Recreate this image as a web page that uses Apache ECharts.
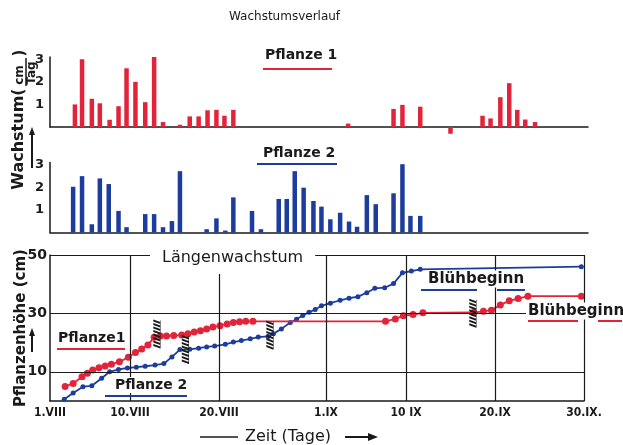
<!DOCTYPE html>
<html><head><meta charset="utf-8">
<script src="https://cdn.jsdelivr.net/npm/echarts@6/dist/echarts.min.js"></script>
<style>html,body{margin:0;padding:0;background:#fff}#c{width:623px;height:445px}</style>
</head><body><div id="c"></div>
<script>
const RED = '#e2243b', BLUE = '#1d3d9e', INK = '#1a1a1a';
const FONT = 'DejaVu Sans';

// x axis: days since 1 August
const xTickDays = [0, 9, 19, 31, 40, 50, 60];
const xTickLabels = ['1.VIII', '10.VIII', '20.VIII', '1.IX', '10 IX', '20.IX', '30.IX.'];
const gridDays = [9, 19, 31, 40, 50, 60];
const rateTicks = [1, 2, 3];
const heightTicks = [10, 30, 50];

// daily growth (cm/Tag)
const p1RateDays = [2.8,3.6,4.7,5.6,6.7,7.7,8.6,9.6,10.7,11.7,12.7, 14.6,15.7,16.7,17.7,18.7,19.6,20.6, 33.5, 38.6,39.6,41.6, 45.0, 48.6,49.5,50.6,51.6,52.5,53.4,54.5];
const p1Rate     = [1.0,3.0,1.25,1.05,0.32,0.92,2.6,2.0,1.1,3.1,0.22, 0.1,0.47,0.47,0.74,0.76,0.5,0.76, 0.15, 0.8,0.98,0.9, -0.3, 0.5,0.38,1.32,1.94,0.76,0.33,0.22];
const p2RateDays = [2.6,3.6,4.7,5.6,6.6,7.7,8.6, 10.7,11.7,12.7,13.7,14.6, 17.6,18.7,19.7,20.6, 22.7,23.7, 25.7,26.6,27.5,28.5,29.6,30.5,31.5,32.6,33.6,34.5,35.6,36.6, 38.6,39.6,40.5,41.6];
const p2Rate     = [2.03,2.5,0.37,2.4,2.15,0.96,0.24, 0.82,0.82,0.24,0.51,2.72, 0.15,0.63,0.09,1.56, 0.96,0.15, 1.49,1.49,2.72,1.99,1.4,1.15,0.59,0.88,0.49,0.26,1.66,1.26, 1.74,3.03,0.74,0.74];

// plant height (cm)
const p1HeightDays = [1.7,2.6,3.6,4.2,4.8,5.5,6.2,6.9,7.8,8.8,9.6,10.3,11.0,11.7,12.4,13.1,13.9,14.8,15.5,16.2,16.9,17.6,18.3,19.1,19.9,20.6,21.3,22.0,22.8, 37.7,38.8,39.7,40.8,41.9, 47.6,48.7,49.6,50.6,51.6,52.6,53.7,59.7];
const p1Height     = [5.0,6.0,8.3,9.5,10.6,11.4,12.0,12.6,13.4,15.0,16.6,17.8,19.2,21.8,22.3,22.3,22.4,22.6,23.0,23.6,24.1,24.7,25.3,25.8,26.4,26.9,27.1,27.3,27.3, 27.3,28.1,29.2,29.6,30.2, 30.3,30.7,31.1,32.9,34.3,35.1,35.9,35.9];
const p2HeightDays = [1.6,2.6,3.7,4.7,5.8,6.7,7.7,8.7,9.7,10.7,11.8,12.8,13.7, 14.6,15.7,16.7,17.6,18.5,19.7,20.6,21.5,22.5,23.4,24.5, 25.1,26.0,27.0,27.7,28.4,29.1,29.8,30.5,31.5,32.6, 33.6,34.6,35.6,36.5,37.6,38.6,39.6,40.6,41.6,59.7];
const p2Height     = [0.6,2.7,4.9,5.2,7.8,10.0,10.8,11.3,11.6,11.9,12.3,12.8,15.1, 17.6,17.7,18.1,18.5,18.8,19.4,20.2,20.7,21.3,21.9,22.1, 23.0,24.7,26.9,28.0,29.3,30.4,31.3,32.6,33.5,34.5, 35.2,35.7,37.1,38.6,38.8,40.2,43.9,44.5,45.1,46.0];

// hatched cut marks [day, cm]
const cutMarks = [[12.0, 22.8], [15.2, 17.5], [24.7, 22.4], [47.5, 29.9]];

const pairs = (xs, ys) => xs.map((x, i) => [x, ys[i]]);
const HATCH = 'path://M8,0V32M0,0L8,3M0,4L8,7M0,8L8,11M0,12L8,15M0,16L8,19M0,20L8,23M0,24L8,27M0,28L8,31';

const axisLineStyle = { lineStyle: { color: INK, width: 1.5 } };
function topX(i) {
  return { type: 'value', gridIndex: i, min: 0, max: 60.45, axisTick: { show: false }, splitLine: { show: false },
    axisLabel: { show: false }, axisLine: axisLineStyle };
}
function rateY(i) {
  return { type: 'value', gridIndex: i, min: 0, max: 3.1, interval: 1, splitLine: { show: false }, axisTick: { show: false },
    axisLine: { show: true, onZero: false, lineStyle: { color: INK, width: 1.5 } },
    axisLabel: { margin: 6, color: INK, fontFamily: FONT, fontSize: 13, fontWeight: 'bold',
      formatter: v => rateTicks.includes(v) ? String(v) : '' } };
}

function txt(x, y, text, size, color, opts) {
  return Object.assign({ type: 'text', x: x, y: y, z: 100,
    style: Object.assign({ text: text, font: (opts && opts.weight || 'bold') + ' ' + size + 'px ' + FONT, fill: color || INK,
      align: 'left', textAlign: 'left', verticalAlign: 'middle', textVerticalAlign: 'middle' }, opts && opts.style) }, opts && opts.el);
}
function rtxt(x, y, text, size) {
  return { type: 'text', x: x, y: y, rotation: Math.PI / 2, z: 100,
    style: { text: text, font: 'bold ' + size + 'px ' + FONT, fill: INK, align: 'center', textAlign: 'center',
      verticalAlign: 'middle', textVerticalAlign: 'middle' } };
}
function seg(x1, y1, x2, y2, color, w) {
  return { type: 'line', z: 100, shape: { x1: x1, y1: y1, x2: x2, y2: y2 }, style: { stroke: color, lineWidth: w || 2 } };
}
function arrowUp(x, yTop, yBot) {
  return [seg(x, yTop + 6, x, yBot, INK, 2),
    { type: 'polygon', z: 100, shape: { points: [[x - 3, yTop + 8], [x + 3, yTop + 8], [x, yTop]] }, style: { fill: INK } }];
}

const graphics = [
  // y label of growth panels
  rtxt(19, 139, 'Wachstum(', 16),
  rtxt(20, 75, 'cm', 12),
  rtxt(32, 73, 'Tag', 12),
  seg(26, 58, 26, 86, INK, 1.5),
  rtxt(20, 53, ')', 15),
  ...arrowUp(32, 127, 168),
  // y label of height panel
  rtxt(21, 328, 'Pflanzenhöhe (cm)', 15),
  ...arrowUp(32, 328, 352),
  // panel labels
  txt(265, 55, 'Pflanze 1', 14, INK),
  seg(263, 69, 332, 69, RED, 2),
  txt(263, 153, 'Pflanze 2', 14, INK),
  seg(257, 164, 337, 164, BLUE, 2),
  // title of height panel (covers the frame like a gap)
  txt(150, 258, 'Längenwachstum', 16, INK, { weight: 'normal', style: { backgroundColor: '#fff', padding: [6, 12, 10, 12] } }),
  txt(58, 338, 'Pflanze1', 14, INK),
  seg(57, 349, 125, 349, RED, 2),
  txt(113, 385, 'Pflanze 2', 14, INK, { style: { backgroundColor: '#fff', padding: [1, 2] } }),
  seg(105, 396, 187, 396, BLUE, 2),
  txt(426, 279, 'Blühbeginn', 15, INK, { style: { backgroundColor: '#fff', padding: [1, 2] } }),
  seg(421, 290, 477, 290, BLUE, 2),
  seg(497, 290, 525, 290, BLUE, 2),
  txt(526, 311, 'Blühbeginn', 15, INK, { style: { backgroundColor: '#fff', padding: [1, 2] } }),
  seg(528, 321, 578, 321, RED, 2),
  seg(598, 321, 622, 321, RED, 2),
  // x axis caption
  seg(200, 437, 238, 437, INK, 1.5),
  txt(245, 437, 'Zeit (Tage)', 16, INK, { weight: 'normal' }),
  seg(345, 437, 370, 437, INK, 2),
  { type: 'polygon', z: 100, shape: { points: [[368, 433], [368, 441], [378, 437]] }, style: { fill: INK } }
];

const option = {
  animation: false,
  backgroundColor: '#fff',
  title: { text: 'Wachstumsverlauf', left: 229, top: 11, padding: 0,
    textStyle: { fontFamily: FONT, fontSize: 12, fontWeight: 'normal', color: INK } },
  grid: [
    { left: 50, width: 538, top: 57, height: 70 },
    { left: 50, width: 538, top: 162.6, height: 70 },
    { left: 50, width: 534, top: 255, height: 146 }
  ],
  xAxis: [
    topX(0), topX(1),
    { type: 'value', gridIndex: 2, min: 0, max: 60, splitLine: { show: false },
      axisTick: { show: false, customValues: xTickDays },
      axisLine: { lineStyle: { color: INK, width: 1.5 } },
      axisLabel: { customValues: xTickDays, margin: 6, color: INK, fontFamily: 'DejaVu Sans Condensed, ' + FONT,
        fontSize: 12, fontWeight: 'bold', formatter: v => { const k = xTickDays.indexOf(v); return k < 0 ? '' : xTickLabels[k]; } } }
  ],
  yAxis: [
    rateY(0), rateY(1),
    { type: 'value', gridIndex: 2, min: 0, max: 50, interval: 10, splitLine: { show: false }, axisTick: { show: false },
      axisLine: { show: true, lineStyle: { color: INK, width: 1.5 } },
      axisLabel: { margin: 3, color: INK, fontFamily: FONT, fontSize: 14, fontWeight: 'bold',
        formatter: v => heightTicks.includes(v) ? String(v) : '' } }
  ],
  graphic: { elements: graphics },
  series: [
    { name: 'Pflanze 1 Wachstum', type: 'bar', xAxisIndex: 0, yAxisIndex: 0, data: pairs(p1RateDays, p1Rate),
      barWidth: 4.5, clip: false, itemStyle: { color: RED } },
    { name: 'Pflanze 2 Wachstum', type: 'bar', xAxisIndex: 1, yAxisIndex: 1, data: pairs(p2RateDays, p2Rate),
      barWidth: 4.5, itemStyle: { color: BLUE } },
    { name: 'frame', type: 'line', xAxisIndex: 2, yAxisIndex: 2, data: [[0, 0]], symbol: 'none', silent: true, z: 1,
      lineStyle: { opacity: 0 },
      markLine: { silent: true, symbol: 'none', animation: false, label: { show: false },
        lineStyle: { color: INK, width: 1.2, type: 'solid' }, emphasis: { disabled: true },
        data: [...gridDays.map(d => ({ xAxis: d })), ...heightTicks.map(v => ({ yAxis: v }))] } },
    { name: 'Pflanze 1', type: 'line', xAxisIndex: 2, yAxisIndex: 2, data: pairs(p1HeightDays, p1Height), z: 4,
      symbol: 'circle', symbolSize: 7, lineStyle: { color: RED, width: 1.8 }, itemStyle: { color: RED } },
    { name: 'Pflanze 2', type: 'line', xAxisIndex: 2, yAxisIndex: 2, data: pairs(p2HeightDays, p2Height), z: 3,
      symbol: 'circle', symbolSize: 5, lineStyle: { color: BLUE, width: 1.8 }, itemStyle: { color: BLUE } },
    { name: 'cuts', type: 'line', xAxisIndex: 2, yAxisIndex: 2, data: [[0, 0]], symbol: 'none', silent: true, z: 5,
      lineStyle: { opacity: 0 },
      markPoint: { silent: true, animation: false, label: { show: false },
        itemStyle: { color: 'none', borderColor: INK, borderWidth: 1 },
        data: cutMarks.map(c => ({ coord: c, symbol: HATCH, symbolSize: [7, 28] })) } }
  ]
};
const chart = echarts.init(document.getElementById('c'));
chart.setOption(option);
</script></body></html>
